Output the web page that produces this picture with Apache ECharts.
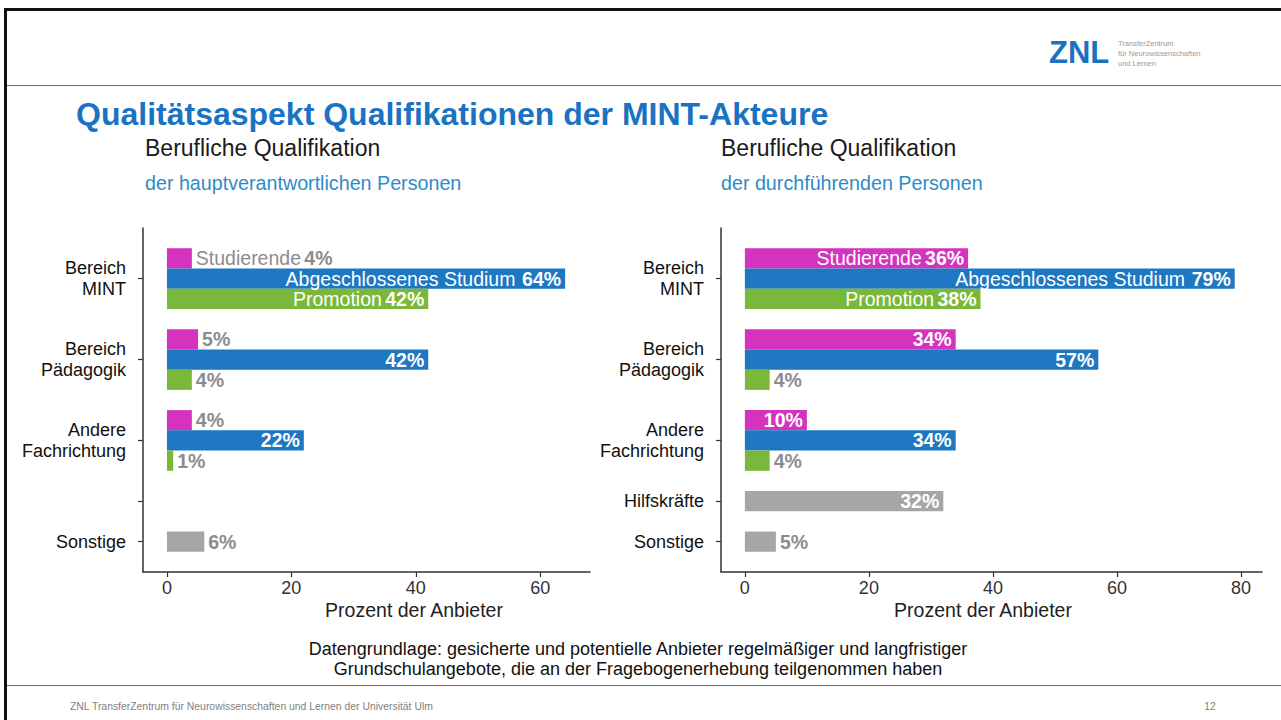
<!DOCTYPE html>
<html>
<head>
<meta charset="utf-8">
<script src="https://cdn.jsdelivr.net/npm/echarts@6/dist/echarts.min.js"></script>
<style>
html,body{margin:0;padding:0;background:#fff;}
#c{width:1281px;height:720px;}
</style>
</head>
<body>
<div id="c"></div>
<script>
// ---------- data ----------
const groupLabels = ['Bereich\nMINT', 'Bereich\nPädagogik', 'Andere\nFachrichtung'];
const extraLabels = ['Hilfskräfte', 'Sonstige'];
const qualNames = ['Studierende', 'Abgeschlossenes Studium', 'Promotion'];

const leftStudierende = [4, 5, 4];
const leftStudium = [64, 42, 22];
const leftPromotion = [42, 4, 1];
const leftExtra = [null, 6];

const rightStudierende = [36, 34, 10];
const rightStudium = [79, 57, 34];
const rightPromotion = [38, 4, 4];
const rightExtra = [32, 5];

const xTicksLeft = [0, 20, 40, 60];
const xTicksRight = [0, 20, 40, 60, 80];

// ---------- styling ----------
const FONT = '"Liberation Sans", Arial, Helvetica, sans-serif';
const COLORS = ['#d532be', '#1e77c1', '#79b83b'];
const GRAY = '#a6a6a6';
const LABEL_GRAY = '#8c8c8c';

// build row slots (category axis)
function buildRows() {
  const rows = [{ label: null }];
  groupLabels.forEach((g, gi) => {
    qualNames.forEach((q, qi) => rows.push({ label: qi === 1 ? g : null, gi, qi }));
    rows.push({ label: null });
  });
  extraLabels.forEach((e, ei) => {
    rows.push({ label: e, ei });
    rows.push({ label: null });
  });
  return rows;
}
const rows = buildRows();

function makeLabel(value, name, withName) {
  const inside = value >= 10;
  const col = inside ? '#ffffff' : LABEL_GRAY;
  const sep = name === 'Abgeschlossenes Studium' ? '  ' : ' ';
  return {
    show: true,
    position: inside ? 'insideRight' : 'right',
    distance: 4,
    formatter: withName ? '{n|' + name + '}' + sep + '{b|' + value + '%}' : '{b|' + value + '%}',
    rich: {
      n: { color: col, fontSize: 19.5, fontFamily: FONT, fontWeight: 'normal' },
      b: { color: col, fontSize: 19.5, fontFamily: FONT, fontWeight: 'bold' }
    }
  };
}

function seriesFor(idx, qualArrays, extra) {
  const out = [];
  qualArrays.forEach((arr, qi) => {
    out.push({
      type: 'bar', name: qualNames[qi], xAxisIndex: idx, yAxisIndex: idx,
      barGap: '-100%', barCategoryGap: '0%',
      itemStyle: { color: COLORS[qi] },
      data: rows.map(r => (r.qi === qi && r.gi !== undefined)
        ? { value: arr[r.gi], label: makeLabel(arr[r.gi], qualNames[qi], r.gi === 0) }
        : null)
    });
  });
  out.push({
    type: 'bar', name: 'Weitere', xAxisIndex: idx, yAxisIndex: idx,
    barGap: '-100%', barCategoryGap: '0%',
    itemStyle: { color: GRAY },
    data: rows.map(r => (r.ei !== undefined && extra[r.ei] != null)
      ? { value: extra[r.ei], label: makeLabel(extra[r.ei], '', false) }
      : null)
  });
  return out;
}

function yAxisFor(idx, showExtraLabel) {
  const isTick = (i) => rows[i].label !== null;
  return {
    type: 'category', gridIndex: idx, inverse: true,
    data: rows.map((r, i) => String(i)),
    axisLine: { show: true, onZero: false, lineStyle: { color: '#333', width: 1.5 } },
    axisTick: { show: true, alignWithLabel: true, length: 5, interval: (i) => isTick(i), lineStyle: { color: '#333', width: 1.2 } },
    axisLabel: {
      interval: (i) => isTick(i),
      margin: 17,
      color: '#111', fontSize: 18, lineHeight: 21, fontFamily: FONT, align: 'right',
      formatter: (v) => {
        const r = rows[+v];
        if (!r || r.label === null) return '';
        if (r.ei === 0 && !showExtraLabel) return '';
        return r.label;
      }
    },
    splitLine: { show: false }
  };
}

function xAxisFor(idx, max, ticks) {
  return {
    type: 'value', gridIndex: idx, min: -3.85, max: max,
    axisLine: { show: true, onZero: false, lineStyle: { color: '#333', width: 1.5 } },
    axisTick: { show: true, length: 5, customValues: ticks, lineStyle: { color: '#333', width: 1.2 } },
    axisLabel: { show: true, customValues: ticks, margin: 7, color: '#333', fontSize: 18, fontFamily: FONT },
    splitLine: { show: false }
  };
}

function txt(x, y, text, opts) {
  return {
    type: 'text', x: x, y: y, silent: true,
    style: Object.assign({
      text: text, fill: '#111', align: 'left', verticalAlign: 'middle',
      font: '16px ' + FONT
    }, opts || {})
  };
}
function line(x1, y1, x2, y2, color, w) {
  return { type: 'line', silent: true, shape: { x1, y1, x2, y2 }, style: { stroke: color, lineWidth: w } };
}

const chart = echarts.init(document.getElementById('c'), null, { renderer: 'svg', width: 1281, height: 720 });

chart.setOption({
  animation: false,
  backgroundColor: '#ffffff',
  grid: [
    { left: 143, top: 228, width: 447, height: 344, containLabel: false },
    { left: 721, top: 228, width: 541, height: 344, containLabel: false }
  ],
  xAxis: [xAxisFor(0, 68, xTicksLeft), xAxisFor(1, 83.4, xTicksRight)],
  yAxis: [yAxisFor(0, false), yAxisFor(1, true)],
  series: [].concat(
    seriesFor(0, [leftStudierende, leftStudium, leftPromotion], leftExtra),
    seriesFor(1, [rightStudierende, rightStudium, rightPromotion], rightExtra)
  ),
  graphic: [
    // slide frame
    line(4, 9.5, 1281, 9.5, '#111', 3),
    line(5.5, 8, 5.5, 720, '#111', 3),
    line(7, 85.5, 1281, 85.5, '#3b6fae', 1.2),
    line(7, 685.5, 1281, 685.5, '#3b6fae', 1.2),
    // logo
    txt(1049, 52, 'ZNL', { fill: '#1a72c0', font: 'bold 31px ' + FONT }),
    txt(1118, 43, 'TransferZentrum', { fill: '#9a9a9a', font: '7.5px ' + FONT }),
    txt(1118, 53, 'für Neurowissenschaften', { fill: '#9a9a9a', font: '7.5px ' + FONT }),
    txt(1118, 63, 'und Lernen', { fill: '#9a9a9a', font: '7.5px ' + FONT }),
    // titles
    txt(76, 114, 'Qualitätsaspekt Qualifikationen der MINT-Akteure', { fill: '#1a73c2', font: 'bold 32px ' + FONT }),
    txt(145, 148, 'Berufliche Qualifikation', { fill: '#1a1a1a', font: '23px ' + FONT }),
    txt(145, 183, 'der hauptverantwortlichen Personen', { fill: '#2e8bc9', font: '19.7px ' + FONT }),
    txt(721, 148, 'Berufliche Qualifikation', { fill: '#1a1a1a', font: '23px ' + FONT }),
    txt(721, 183, 'der durchführenden Personen', { fill: '#2e8bc9', font: '19.7px ' + FONT }),
    // axis titles
    txt(414, 610, 'Prozent der Anbieter', { fill: '#222', align: 'center', font: '19.5px ' + FONT }),
    txt(983, 610, 'Prozent der Anbieter', { fill: '#222', align: 'center', font: '19.5px ' + FONT }),
    // footnote
    txt(638, 649, 'Datengrundlage: gesicherte und potentielle Anbieter regelmäßiger und langfristiger', { fill: '#111', align: 'center', font: '18px ' + FONT }),
    txt(638, 669, 'Grundschulangebote, die an der Fragebogenerhebung teilgenommen haben', { fill: '#111', align: 'center', font: '18px ' + FONT }),
    // footer
    txt(70, 706, 'ZNL TransferZentrum für Neurowissenschaften und Lernen der Universität Ulm', { fill: '#7f7f7f', font: '10.4px ' + FONT }),
    txt(1210, 706, '12', { fill: '#7f7f7f', align: 'center', font: '10.4px ' + FONT })
  ]
});
</script>
</body>
</html>
